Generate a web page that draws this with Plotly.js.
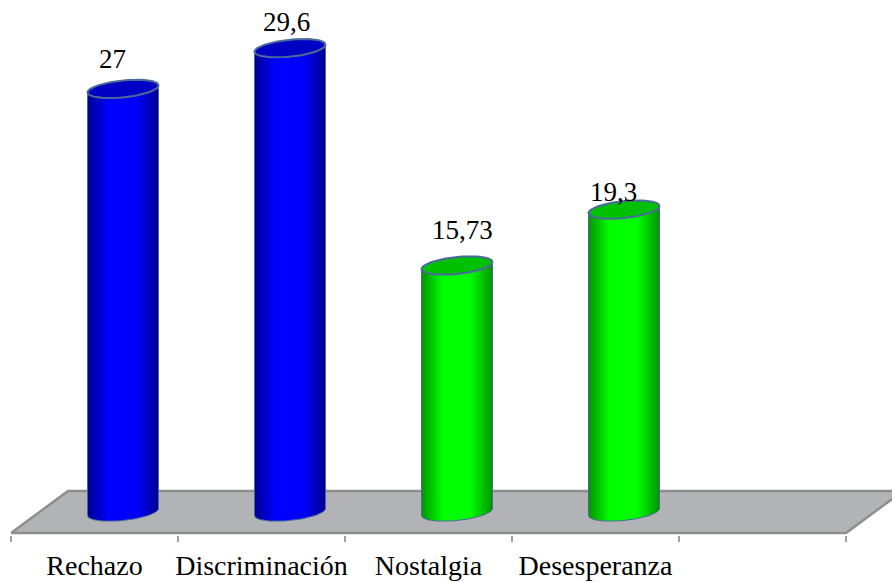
<!DOCTYPE html>
<html><head><meta charset="utf-8">
<script src="https://cdn.plot.ly/plotly-3.0.1.min.js"></script>
<style>html,body{margin:0;padding:0;background:#fff}#c{width:892px;height:583px}</style>
</head><body><div id="c"></div>
<script>
const categories = ["Rechazo", "Discriminación", "Nostalgia", "Desesperanza"];
const values = [27, 29.6, 15.73, 19.3];
const labels = ["27", "29,6", "15,73", "19,3"];
const edgeColors = ["#000090", "#000090", "#009400", "#009400"];
const midColors = ["#0000ff", "#0000ff", "#00ff00", "#00ff00"];
const capColors = ["#0000c4", "#0000c4", "#00c000", "#00c000"];
const labelShiftX = [-11, -4, 5, -11];
const labelShiftY = [30, 26, 36, 18];

const W = 892, H = 583, L = 11, B = 48, pxX = 167, pxY = 15.67;
const xMax = -0.5 + (W - L) / pxX;
const yMin = -2 / pxY, yMax = 533 / pxY;
const depthX = 28.5 / pxX, depthY = 21 / pxY;       // half depth of the floor
const a = 35.5 / pxX, b = 8.5 / pxY, k = 3.5 / pxY; // ellipse radii and tilt
const LINE = "#4a6a9c";

function arc(cx, cy, t0, t1, n) {
  const xs = [], ys = [];
  for (let i = 0; i <= n; i++) {
    const t = t0 + (t1 - t0) * i / n;
    xs.push(cx + a * Math.cos(t));
    ys.push(cy + b * Math.sin(t) + k * Math.cos(t));
  }
  return [xs, ys];
}

const traces = [{
  x: [-0.5, 4.5, 4.5 + 2 * depthX, -0.5 + 2 * depthX, -0.5],
  y: [0, 0, 2 * depthY, 2 * depthY, 0],
  mode: "lines", fill: "toself", fillcolor: "#b1b3b6",
  line: {color: "#8e8e8e", width: 2.5}, cliponaxis: false,
  hoverinfo: "skip", showlegend: false
}];

values.forEach((v, i) => {
  const cx = i + depthX;
  const [bx, by] = arc(cx, depthY, Math.PI, 2 * Math.PI, 40);
  const [tx, ty] = arc(cx, depthY + v, 2 * Math.PI, Math.PI, 40);
  traces.push({
    x: bx.concat(tx, [bx[0]]), y: by.concat(ty, [by[0]]),
    mode: "lines", fill: "toself",
    fillgradient: {type: "horizontal", colorscale: [[0, edgeColors[i]], [0.3, midColors[i]], [0.68, midColors[i]], [1, edgeColors[i]]]},
    line: {color: LINE, width: 1}, hoverinfo: "skip", showlegend: false
  });
  const [cxs, cys] = arc(cx, depthY + v, 0, 2 * Math.PI, 80);
  traces.push({
    x: cxs, y: cys, mode: "lines", fill: "toself", fillcolor: capColors[i],
    line: {color: LINE, width: 2}, hoverinfo: "skip", showlegend: false
  });
});

const annotations = values.map((v, i) => ({
  x: i + depthX, y: v + depthY, text: labels[i], showarrow: false,
  xanchor: "center", yanchor: "middle",
  xshift: labelShiftX[i], yshift: labelShiftY[i],
  font: {family: "Liberation Serif", size: 27, color: "#000"}
}));

const layout = {
  width: W, height: H, paper_bgcolor: "#fff", plot_bgcolor: "rgba(0,0,0,0)",
  margin: {l: L, r: 0, t: 0, b: B, pad: 0},
  xaxis: {
    range: [-0.5, xMax], tickmode: "array", tickvals: [0, 1, 2, 3], ticktext: categories,
    ticks: "", showgrid: false, zeroline: false, showline: false,
    ticklabelstandoff: 11,
    tickfont: {family: "Liberation Serif", size: 28, color: "#000"},
    minor: {tickmode: "array", tickvals: [-0.5, 0.5, 1.5, 2.5, 3.5, 4.5], ticks: "outside", ticklen: 6, tickwidth: 1.5, tickcolor: "#a0a0a0", showgrid: false}
  },
  yaxis: {range: [yMin, yMax], visible: false, showgrid: false, zeroline: false},
  annotations: annotations, showlegend: false
};
Plotly.newPlot("c", traces, layout, {displayModeBar: false, staticPlot: true});
</script></body></html>
